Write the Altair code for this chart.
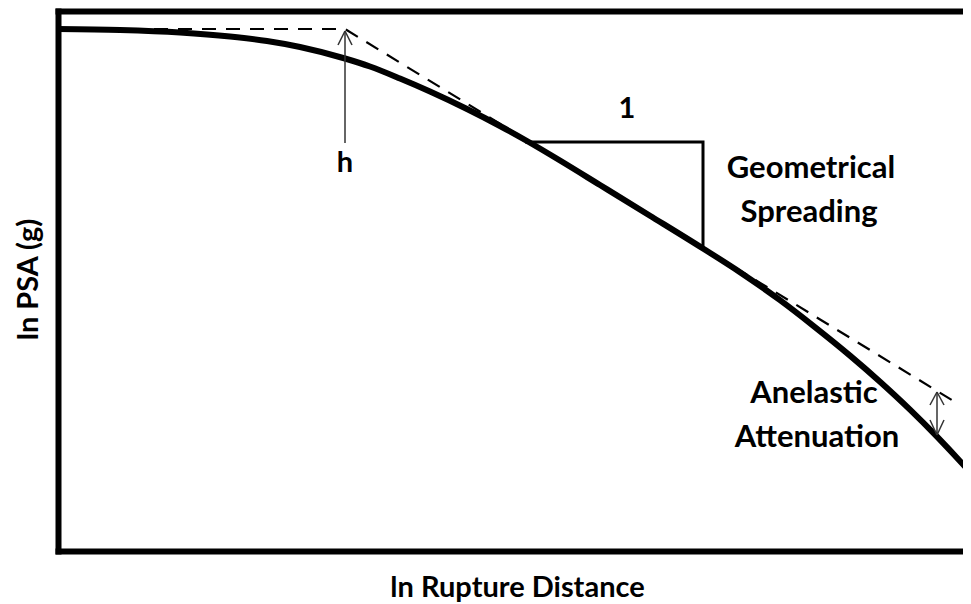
import altair as alt
import pandas as pd

# Main attenuation curve (x: ln distance units, y: ln PSA units)
curve_x = [0, 62, 122, 172, 209, 242, 287, 312, 342, 372, 409, 442, 469, 502, 542,
           592, 645, 682, 722, 755, 792, 822, 852, 879, 913, 932]
curve_y = [522, 521, 518.5, 514.5, 510, 504, 492.5, 484.5, 472.5, 459.5, 442, 425, 410,
           390.5, 366, 335.3, 302.5, 278.8, 250.8, 225.4, 195.4, 169.3, 141.4, 114.4, 77.7, 55.8]

# Dashed asymptote (flat then slope)
dash_x = [0, 287, 902]
dash_y = [522, 522, 146]

# Slope triangle
tri_x = [467, 645, 645]
tri_y = [409, 409, 301]

# Thin arrow segments: shaft and open heads
arr_x1 = [287, 280, 294, 879, 872, 886, 872, 886]
arr_y1 = [408, 506, 506, 159, 146, 146, 131, 131]
arr_x2 = [287, 287, 287, 879, 879, 879, 879, 879]
arr_y2 = [520, 520, 520, 116, 159, 159, 116, 116]

# Annotations
label_text = ["h", "1", "Geometrical", "Spreading", "Anelastic", "Attenuation"]
label_x = [287, 569, 753, 751, 756, 759]
label_y = [379, 433, 373, 329, 148, 104]
label_size = [29, 29, 31, 31, 31, 31]

X_DOMAIN = [0, 905]
Y_DOMAIN = [0, 540]
FONT = "Lato"

curve_df = pd.DataFrame({"x": curve_x, "y": curve_y, "o": range(len(curve_x))})
dash_df = pd.DataFrame({"x": dash_x, "y": dash_y, "o": range(len(dash_x))})
tri_df = pd.DataFrame({"x": tri_x, "y": tri_y, "o": range(len(tri_x))})
arr_df = pd.DataFrame({"x": arr_x1, "y": arr_y1, "x2": arr_x2, "y2": arr_y2})
lab_df = pd.DataFrame({"t": label_text, "x": label_x, "y": label_y, "s": label_size})

xs = alt.Scale(domain=X_DOMAIN, nice=False, zero=False)
ys = alt.Scale(domain=Y_DOMAIN, nice=False, zero=False)

x_axis = alt.Axis(
    title="ln Rupture Distance", labels=False, ticks=False, grid=False,
    domainWidth=6, domainColor="black", domainCap="square",
    titleFont=FONT, titleFontSize=29, titleFontWeight="bold", titleColor="black",
    titleBaseline="alphabetic", titleX=459, titleY=45, titleAlign="center",
)
y_axis = alt.Axis(
    title="ln PSA (g)", labels=False, ticks=False, grid=False,
    domainWidth=6, domainColor="black", domainCap="square",
    titleFont=FONT, titleFontSize=29, titleFontWeight="bold", titleColor="black",
    titleBaseline="alphabetic", titleX=-21, titleY=268, titleAlign="center", titleAngle=270,
)
top_axis = alt.Axis(
    orient="top", title=None, labels=False, ticks=False, grid=False,
    domainWidth=6, domainColor="black", domainCap="square",
)

curve = alt.Chart(curve_df).mark_line(
    color="black", strokeWidth=6, interpolate="monotone", clip=True
).encode(
    x=alt.X("x:Q", scale=xs, axis=x_axis),
    y=alt.Y("y:Q", scale=ys, axis=y_axis),
    order="o:Q",
)

dash = alt.Chart(dash_df).mark_line(
    color="black", strokeWidth=2.2, strokeDash=[14, 10], clip=True
).encode(
    x=alt.X("x:Q", scale=xs, axis=None),
    y=alt.Y("y:Q", scale=ys),
    order="o:Q",
)

tri = alt.Chart(tri_df).mark_line(
    color="black", strokeWidth=3, strokeJoin="miter"
).encode(
    x=alt.X("x:Q", scale=xs, axis=None),
    y=alt.Y("y:Q", scale=ys),
    order="o:Q",
)

arrows = alt.Chart(arr_df).mark_rule(color="#333333", strokeWidth=1.5).encode(
    x=alt.X("x:Q", scale=xs, axis=None),
    y=alt.Y("y:Q", scale=ys),
    x2="x2:Q", y2="y2:Q",
)

labels = alt.Chart(lab_df).mark_text(
    font=FONT, fontWeight="bold", color="black",
    align="center", baseline="alphabetic"
).encode(
    x=alt.X("x:Q", scale=xs, axis=top_axis),
    y=alt.Y("y:Q", scale=ys),
    text="t:N",
    size=alt.Size("s:Q", scale=None, legend=None),
)

chart = alt.layer(curve, dash, tri, arrows, labels).resolve_axis(x="independent").properties(
    width=905, height=540,
    autosize=alt.AutoSizeParams(type="none"),
    padding={"left": 50, "top": 3, "right": 0, "bottom": 53},
    background="white",
).configure_view(stroke=None).configure_axis(
    labels=False, ticks=False, grid=False,
    domainWidth=6, domainColor="black", domainCap="square",
)

chart.save("out.html", embed_options={"renderer": "svg", "actions": False})
